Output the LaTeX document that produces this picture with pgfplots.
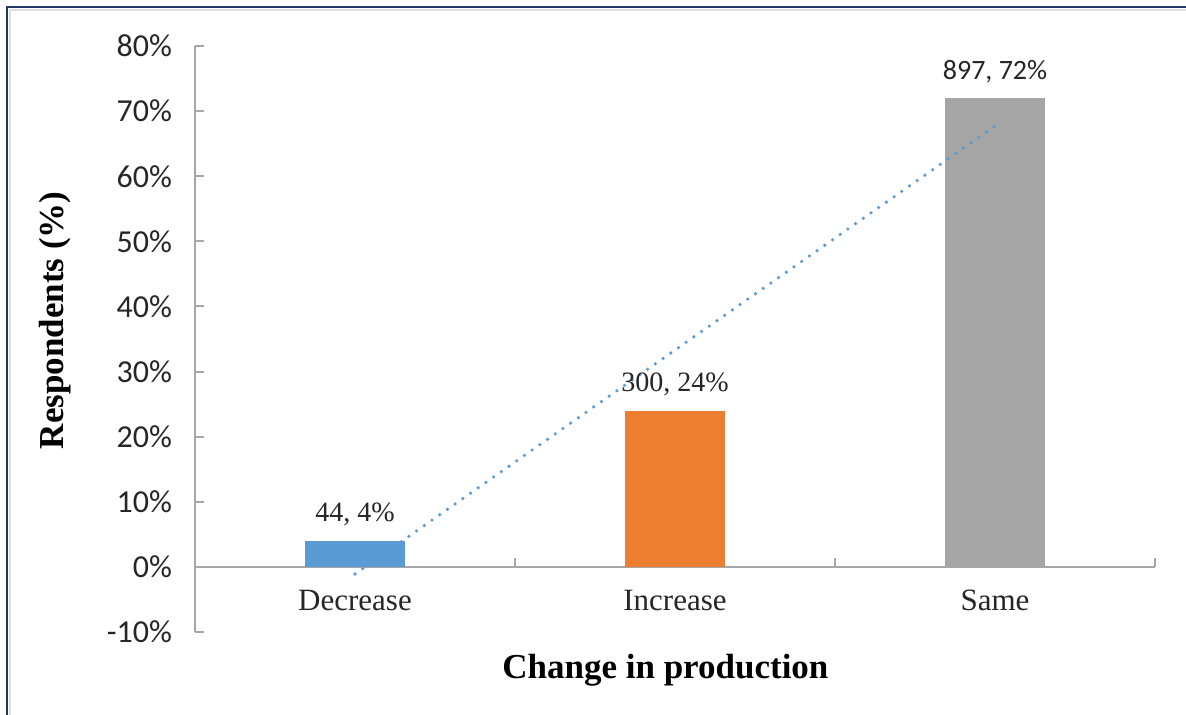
\documentclass[border=0pt]{standalone}
\usepackage{fontspec}
\setmainfont{Liberation Serif}
\newfontfamily\calibri{Carlito}
\usepackage{pgfplots}
\pgfplotsset{compat=1.18}
\definecolor{barblue}{HTML}{5B9BD5}
\definecolor{barorange}{HTML}{ED7D31}
\definecolor{bargray}{HTML}{A5A5A5}
\definecolor{axisgray}{HTML}{A6A6A6}
\definecolor{framenavy}{HTML}{1F3864}

\begin{document}
\begin{tikzpicture}
\begin{axis}[
  at={(0,0)}, anchor=south west,
  scale only axis, width=480pt, height=293pt,
  xmin=-0.5, xmax=2.5, ymin=-10, ymax=80,
  axis y line=left, axis x line=middle,
  axis line style={-, draw=axisgray, line width=1pt},
  hide obscured x ticks=false, hide obscured y ticks=false,
  tick align=inside,
  major tick length=4.5pt,
  tick style={draw=axisgray, line width=1pt},
  xtick={0.5,1.5,2.5}, xticklabels={},
  extra x ticks={0,1,2},
  extra x tick labels={Decrease,Increase,Same},
  extra x tick style={major tick length=0pt},
  xticklabel style={font=\fontsize{15.5}{18}\selectfont, text=black!85, yshift=-8pt},
  ytick={-10,0,10,20,30,40,50,60,70,80},
  yticklabels={-10\%,0\%,10\%,20\%,30\%,40\%,50\%,60\%,70\%,80\%},
  yticklabel style={font=\calibri\fontsize{16}{19}\selectfont, text=black!85, xshift=-8pt},
  xlabel={Change in production},
  ylabel={Respondents (\%)},
  every axis x label/.style={at={(axis description cs:0.49,0)}, anchor=north, yshift=-7.5pt,
    font=\bfseries\fontsize{17.5}{21}\selectfont},
  every axis y label/.style={at={(axis description cs:-0.146,0.532)}, rotate=90, anchor=center,
    font=\bfseries\fontsize{17.5}{21}\selectfont},
  clip=false,
]
% one bar per answer, each with its count and share
\addplot[ybar, bar width=50pt, bar shift=0pt, fill=barblue, draw=none,
  nodes near coords={44, 4\%},
  every node near coord/.append style={font=\fontsize{14}{17}\selectfont, text=black!85, yshift=4pt}]
  coordinates {(0,4)};
\addplot[ybar, bar width=50pt, bar shift=0pt, fill=barorange, draw=none,
  nodes near coords={300, 24\%},
  every node near coord/.append style={font=\fontsize{14}{17}\selectfont, text=black!85, yshift=4pt}]
  coordinates {(1,24)};
\addplot[ybar, bar width=50pt, bar shift=0pt, fill=bargray, draw=none,
  nodes near coords={897, 72\%},
  every node near coord/.append style={font=\calibri\fontsize{14}{17}\selectfont, text=black!85, yshift=4pt}]
  coordinates {(2,72)};
% linear trend line
\addplot[barblue, line width=1.8pt, line cap=round, dash pattern=on 0pt off 4.7pt]
  coordinates {(0,-1.1) (2,67.7)};
\end{axis}
\pgfresetboundingbox
\useasboundingbox (-97.5pt,-41.5pt) rectangle (495.5pt,316pt);
\draw[black!12, line width=1pt] (-92.5pt,-41.5pt) -- (-92.5pt,311pt) -- (495.5pt,311pt);
\draw[framenavy, line width=1.2pt] (-94pt,-41.5pt) -- (-94pt,312.5pt) -- (495.5pt,312.5pt);
\end{tikzpicture}
\end{document}
